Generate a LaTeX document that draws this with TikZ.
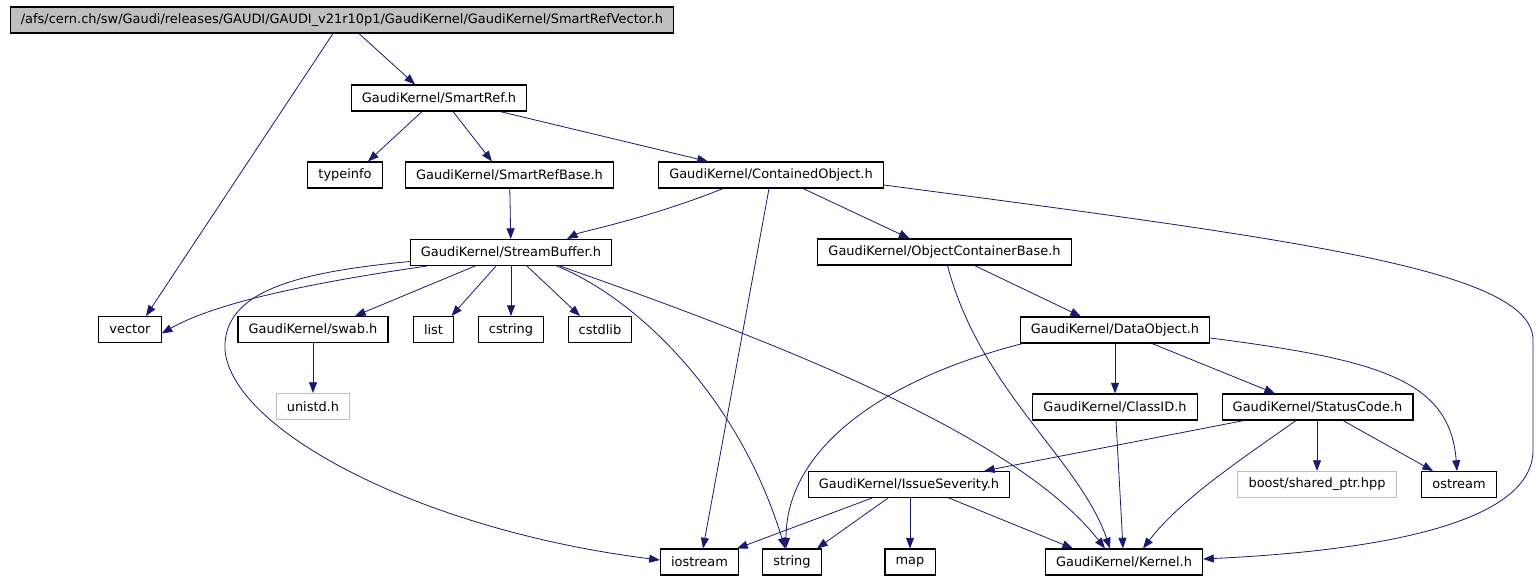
\documentclass[tikz,border=0pt]{standalone}
\usepackage{fontspec}
\setmainfont{DejaVu Sans}
\usetikzlibrary{arrows.meta,calc}
\definecolor{edgeblue}{RGB}{25,25,112}
\definecolor{boxgray}{RGB}{191,191,191}
\tikzset{
  incbox/.style={draw=black, line width=0.8pt, inner xsep=8pt, inner ysep=0pt, minimum height=19.5pt, font=\fontsize{9.7}{11}\selectfont},
  topbox/.style={incbox, fill=boxgray},
  sysbox/.style={incbox, draw=boxgray},
  incl/.style={draw=edgeblue, line width=0.6pt, -{Triangle[length=8pt,width=6pt]}}
}
\begin{document}
\begin{tikzpicture}[x=0.75pt,y=0.75pt,yscale=-1,xscale=1]
\useasboundingbox (0,0) rectangle (1540,581);

% Text Node
\node[topbox] (top) at (342,20) {/afs/cern.ch/sw/Gaudi/releases/GAUDI/GAUDI\_v21r10p1/GaudiKernel/GaudiKernel/SmartRefVector.h};
% Text Node
\node[incbox] (sref) at (439,98) {GaudiKernel/SmartRef.h};
% Text Node
\node[incbox] (typeinfo) at (345,175) {typeinfo};
\node[incbox] (srbase) at (509.5,175) {GaudiKernel/SmartRefBase.h};
\node[incbox] (cobj) at (771,175) {GaudiKernel/ContainedObject.h};
% Text Node
\node[incbox] (sbuf) at (511,252.5) {GaudiKernel/StreamBuffer.h};
\node[incbox] (ocb) at (944.5,252) {GaudiKernel/ObjectContainerBase.h};
% Text Node
\node[incbox] (vector) at (130,329.5) {vector};
\node[incbox] (swab) at (313,329.5) {GaudiKernel/swab.h};
\node[incbox] (list) at (433.5,329.5) {list};
\node[incbox] (cstring) at (511,329.5) {cstring};
\node[incbox] (cstdlib) at (600,329.5) {cstdlib};
\node[incbox] (dobj) at (1115,330) {GaudiKernel/DataObject.h};
% Text Node
\node[sysbox] (unistd) at (313,406.5) {unistd.h};
\node[incbox] (classid) at (1115,407) {GaudiKernel/ClassID.h};
\node[incbox] (status) at (1317.5,407) {GaudiKernel/StatusCode.h};
% Text Node
\node[incbox] (issue) at (909,484.5) {GaudiKernel/IssueSeverity.h};
\node[sysbox] (boost) at (1317,484.5) {boost/shared\_ptr.hpp};
\node[incbox] (ostream) at (1459,484.5) {ostream};
% Text Node
\node[incbox] (iostream) at (699.5,562) {iostream};
\node[incbox] (string) at (792,562) {string};
\node[incbox] (map) at (910,562) {map};
\node[incbox] (kernel) at (1124,562) {GaudiKernel/Kernel.h};

%Straight Lines
\draw[incl] ($(top.south)+(-9,0)$) -- ($(vector.north)+(16,0)$);
\draw[incl] ($(top.south)+(17,0)$) -- ($(sref.north)+(-24,0)$);
\draw[incl] ($(sref.south)+(-17,0)$) -- ($(typeinfo.north)+(23,0)$);
\draw[incl] ($(sref.south)+(14,0)$) -- ($(srbase.north)+(-17.5,0)$);
\draw[incl] ($(sref.south)+(61,0)$) -- ($(cobj.north)+(-63,0)$);
\draw[incl] (srbase) -- (sbuf);
\draw[incl] ($(cobj.south)+(-48,0)$) .. controls (650,218) and (580,232) .. ($(sbuf.north)+(56,0)$);
\draw[incl] ($(cobj.south)+(-2,0)$) -- ($(iostream.north)+(3.5,0)$);
\draw[incl] ($(cobj.south)+(32,0)$) -- ($(ocb.north)+(-35,0)$);
\draw[incl] ($(cobj.east)+(0,10)$) .. controls (1300,240) and (1533,270) .. (1533,340) -- (1533,450) .. controls (1533,530) and (1350,552) .. ($(kernel.east)+(0,-3)$);
%Curves from StreamBuffer
\draw[incl] ($(sbuf.south)+(-84,0)$) .. controls (330,280) and (220,300) .. ($(vector.east)+(0,4)$);
\draw[incl] ($(sbuf.west)+(0,9)$) .. controls (300,272) and (222,290) .. (225,350) .. controls (232,430) and (420,530) .. ($(iostream.west)+(0,-2)$);
\draw[incl] ($(sbuf.south)+(-36,0)$) -- ($(swab.north)+(42,0)$);
\draw[incl] ($(sbuf.south)+(-15,0)$) -- ($(list.north)+(18,0)$);
\draw[incl] (sbuf) -- (cstring);
\draw[incl] ($(sbuf.south)+(16,0)$) -- ($(cstdlib.north)+(-20,0)$);
\draw[incl] ($(sbuf.south)+(46,0)$) .. controls (640,300) and (740,400) .. ($(string.north)+(-7,0)$);
\draw[incl] ($(sbuf.south)+(49,0)$) .. controls (800,350) and (1020,440) .. ($(kernel.north)+(-19,0)$);
\draw[incl] (swab) -- (swab |- unistd.north);
%Lines from ObjectContainerBase and DataObject
\draw[incl] ($(ocb.south)+(30,0)$) -- ($(dobj.north)+(-34,0)$);
\draw[incl] ($(ocb.south)+(3,0)$) .. controls (980,390) and (1080,460) .. ($(kernel.north)+(-14,0)$);
\draw[incl] ($(dobj.south west)+(3,0)$) .. controls (880,380) and (786,450) .. ($(string.north)+(-6,0)$);
\draw[incl] (dobj) -- (classid);
\draw[incl] ($(dobj.south)+(37,0)$) -- ($(status.north)+(-42.5,0)$);
\draw[incl] ($(dobj.east)+(0,8)$) .. controls (1380,360) and (1450,380) .. ($(ostream.north)+(-2,0)$);
\draw[incl] ($(classid.south)+(1,0)$) -- ($(kernel.north)+(-1,0)$);
%Lines from StatusCode
\draw[incl] ($(status.south)+(-73.5,0)$) -- ($(issue.north)+(75,0)$);
\draw[incl] ($(status.south)+(-21.5,0)$) .. controls (1240,460) and (1180,500) .. ($(kernel.north)+(19,0)$);
\draw[incl] (status.south -| boost) -- (boost);
\draw[incl] ($(status.south)+(25.5,0)$) -- ($(ostream.north)+(-26,0)$);
%Lines from IssueSeverity
\draw[incl] ($(issue.south)+(-37,0)$) -- ($(iostream.north)+(37.5,0)$);
\draw[incl] ($(issue.south)+(-21,0)$) -- ($(string.north)+(25,0)$);
\draw[incl] (issue.south -| map) -- (map);
\draw[incl] ($(issue.south)+(40,0)$) -- ($(kernel.north)+(-51,0)$);

\end{tikzpicture}
\end{document}
